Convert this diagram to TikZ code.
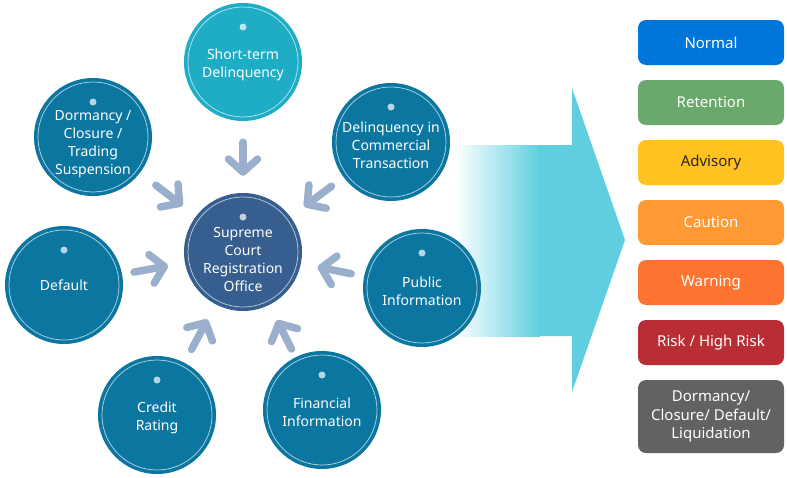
\documentclass[tikz,border=0pt]{standalone}
\usepackage{fontspec}
\setmainfont{Noto Sans}
\usetikzlibrary{positioning,arrows.meta}

\definecolor{ringblue}{HTML}{0B77A1}
\definecolor{shortteal}{HTML}{1FADC6}
\definecolor{courtblue}{HTML}{365E8E}
\definecolor{feedgrey}{HTML}{9AAFCB}
\definecolor{bigcyan}{HTML}{5FCFE0}
\definecolor{normalblue}{HTML}{0075DA}
\definecolor{retgreen}{HTML}{6AA86B}
\definecolor{advyellow}{HTML}{FFC220}
\definecolor{cauorange}{HTML}{FF9933}
\definecolor{warnorange}{HTML}{FF7431}
\definecolor{riskred}{HTML}{B82E34}
\definecolor{dormgrey}{HTML}{626262}

% pushes the text of a circle down, below its dot
\newcommand{\dotgap}[1]{\rule{0pt}{#1}}

\tikzset{
  factor/.style={circle, minimum size=118pt, inner sep=0pt, fill=ringblue,
    text=white, align=center, font=\fontsize{14}{18}\selectfont,
    path picture={
      \fill[white, opacity=.7] ([yshift=35pt]path picture bounding box.center) circle (3.5pt);
      \draw[white, opacity=.7, line width=.7pt] (path picture bounding box.center) circle (55pt);}},
  status/.style={rectangle, rounded corners=8pt, minimum width=146pt, minimum height=45pt,
    inner sep=0pt, text=white, align=center, font=\fontsize{15}{18.5}\selectfont},
  feed/.style={draw=feedgrey, line width=7.5pt, line cap=round,
    -{Straight Barb[length=13pt, width=29pt, round]}, shorten >=17pt, shorten <=15pt}
}

\begin{document}
\begin{tikzpicture}[x=1pt, y=-1pt]
  \useasboundingbox (0,0) rectangle (787,477);

  % big arrow
  \shade[left color=white, right color=bigcyan] (455,145) rectangle (540,336);
  \fill[bigcyan] (539,145) -- (572,145) -- (572,88) -- (625,240) -- (572,392)
    -- (572,336) -- (539,336) -- cycle;

  % factors
  \node (sc)  [factor, fill=courtblue] at (243,252) {\dotgap{25pt}Supreme\\Court\\Registration\\Office};
  \node (st)  [factor, fill=shortteal] at (243,62)  {\dotgap{16pt}Short-term\\Delinquency};
  \node (dor) [factor] at (93,137)  {\dotgap{24pt}Dormancy /\\Closure /\\Trading\\Suspension};
  \node (dic) [factor] at (391,142) {\dotgap{18pt}Delinquency in\\Commercial\\Transaction};
  \node (def) [factor] at (64,285)  {Default};
  \node (pub) [factor] at (422,288) {\dotgap{17pt}Public\\Information};
  \node (cr)  [factor] at (157,415) {\dotgap{17pt}Credit\\Rating};
  \node (fin) [factor] at (322,410) {\dotgap{16pt}Financial\\Information};

  \draw [feed, shorten <=21pt] (st) -- (sc);
  \draw [feed, shorten <=20pt] (dor) -- (sc);
  \draw [feed] (dic) -- (sc);
  \draw [feed, shorten <=12pt] (def) -- (sc);
  \draw [feed, shorten <=13pt] (pub) -- (sc);
  \draw [feed] (cr) -- (sc);
  \draw [feed, shorten <=9pt] (fin) -- (sc);

  % grades
  \node (nor)  [status, fill=normalblue] at (711,42.5) {Normal};
  \node (ret)  [status, fill=retgreen, below=14.6pt of nor] {Retention};
  \node (adv)  [status, fill=advyellow, text=black!85, below=14.6pt of ret] {Advisory};
  \node (cau)  [status, fill=cauorange, below=14.6pt of adv] {Caution};
  \node (warn) [status, fill=warnorange, below=14.6pt of cau] {Warning};
  \node (risk) [status, fill=riskred, below=14.6pt of warn] {Risk / High Risk};
  \node (dorm) [status, fill=dormgrey, minimum height=73pt, below=14.6pt of risk]
    {Dormancy/\\Closure/ Default/\\Liquidation};
\end{tikzpicture}
\end{document}
